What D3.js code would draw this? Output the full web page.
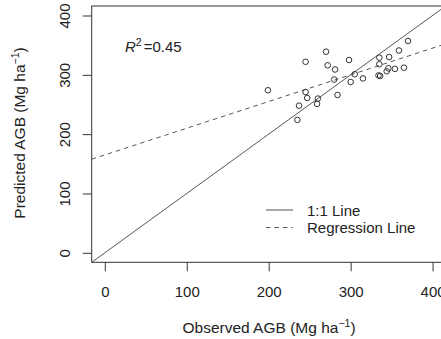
<!DOCTYPE html>
<html>
<head>
<meta charset="utf-8">
<script src="https://d3js.org/d3.v7.min.js"></script>
<style>
  html, body { margin: 0; padding: 0; background: #fff; }
  svg { display: block; font-family: "Liberation Sans", Arial, sans-serif; }
</style>
</head>
<body>
<svg></svg>
<script>
// observed vs predicted AGB (Mg/ha)
let observed  = [199, 245, 270, 272, 281, 298, 280, 305, 300, 315, 284, 245, 247, 260,
                 259, 237, 235, 335, 335, 347, 359, 370, 334, 336, 346, 344, 354, 365],
    predicted = [274, 322, 339, 316, 309, 325, 292, 301, 288, 294, 266, 271, 261, 260,
                 251, 248, 224, 329, 318, 330, 341, 357, 299, 298, 311, 306, 310, 312],
    xTicks    = [0, 100, 200, 300, 400],
    yTicks    = [0, 100, 200, 300, 400],
    fit       = {intercept: 165, slope: 0.45},
    rSquared  = "0.45",
    legendLabels = ["1:1 Line", "Regression Line"];

let width = 441, height = 339,
    boxLeft = 91.7, boxRight = 445.7, boxTop = 6, boxBottom = 262.3,
    ink = "#333", lineInk = "#555", fontSize = 15,
    xScale = d3.scaleLinear().domain([-16, 416]).range([boxLeft, boxRight]),
    yScale = d3.scaleLinear().domain([-16, 416]).range([boxBottom, boxTop]),
    xAxis = d3.axisBottom(xScale).tickValues(xTicks).tickSize(9).tickPadding(15).tickSizeOuter(0),
    yAxis = d3.axisLeft(yScale).tickValues(yTicks).tickSize(9).tickPadding(6).tickSizeOuter(0),

    svg = d3.select("svg")
            .attr("width", width)
            .attr("height", height);

// 1:1 line and regression line, clipped to the plot box
svg.append("clipPath").attr("id", "box")
    .append("rect")
    .attr("x", boxLeft).attr("y", boxTop)
    .attr("width", boxRight - boxLeft).attr("height", boxBottom - boxTop);

let plot = svg.append("g").attr("clip-path", "url(#box)"),
    ends = xScale.domain();

plot.append("line")
    .attr("x1", xScale(ends[0])).attr("y1", yScale(ends[0]))
    .attr("x2", xScale(ends[1])).attr("y2", yScale(ends[1]))
    .attr("stroke", lineInk).attr("stroke-width", 1);

plot.append("line")
    .attr("x1", xScale(ends[0])).attr("y1", yScale(fit.intercept + fit.slope * ends[0]))
    .attr("x2", xScale(ends[1])).attr("y2", yScale(fit.intercept + fit.slope * ends[1]))
    .attr("stroke", lineInk).attr("stroke-width", 1)
    .attr("stroke-dasharray", "4.5,4");

plot.selectAll("circle")
    .data(observed)
    .enter()
    .append("circle")
    .attr("cx", d => xScale(d))
    .attr("cy", (d, i) => yScale(predicted[i]))
    .attr("r", 2.8)
    .attr("fill", "none")
    .attr("stroke", ink)
    .attr("stroke-width", 1);

// frame
svg.append("rect")
    .attr("x", boxLeft).attr("y", boxTop)
    .attr("width", boxRight - boxLeft).attr("height", boxBottom - boxTop)
    .attr("fill", "none").attr("stroke", ink).attr("stroke-width", 1);

let gx = svg.append("g")
    .attr("transform", `translate(0,${boxBottom})`)
    .call(xAxis);

let gy = svg.append("g")
    .attr("transform", `translate(${boxLeft},0)`)
    .call(yAxis);

[gx, gy].forEach(g => {
  g.select(".domain").remove();
  g.selectAll(".tick line").attr("stroke", ink);
  g.selectAll(".tick text")
    .attr("fill", "#222")
    .attr("font-size", fontSize)
    .attr("font-family", "Liberation Sans, Arial, sans-serif");
});

// y tick labels sit rotated, as base R draws them
gy.selectAll(".tick text")
    .attr("x", null).attr("dy", null)
    .attr("text-anchor", "middle")
    .attr("transform", "translate(-27,0) rotate(-90)")
    .attr("y", 5);

// axis titles
let xTitle = svg.append("text")
    .attr("x", 269)
    .attr("y", 333)
    .attr("text-anchor", "middle")
    .attr("font-size", 15.5)
    .attr("fill", "#222")
    .text("Observed AGB (Mg ha");
xTitle.append("tspan").attr("dy", -6).attr("font-size", 10.5).text("\u22121");
xTitle.append("tspan").attr("dy", 6).text(")");

let yTitle = svg.append("text")
    .attr("transform", "translate(25,133) rotate(-90)")
    .attr("text-anchor", "middle")
    .attr("font-size", 15.5)
    .attr("fill", "#222")
    .text("Predicted AGB (Mg ha");
yTitle.append("tspan").attr("dy", -6).attr("font-size", 10.5).text("\u22121");
yTitle.append("tspan").attr("dy", 6).text(")");

// R squared note
let r2 = svg.append("text")
    .attr("x", 125)
    .attr("y", 52)
    .attr("font-size", fontSize)
    .attr("fill", "#222");
r2.append("tspan").attr("font-style", "italic").text("R");
r2.append("tspan").attr("dy", -6).attr("font-size", 10.5).text("2");
r2.append("tspan").attr("dy", 6).attr("dx", 2).text("=" + rSquared);

// legend
let legend = svg.append("g")
    .selectAll("g")
    .data(legendLabels)
    .enter()
    .append("g")
    .attr("transform", (d, i) => `translate(266,${210 + i * 17.5})`);

legend.append("line")
    .attr("x1", 0).attr("x2", 27)
    .attr("stroke", lineInk).attr("stroke-width", 1)
    .attr("stroke-dasharray", (d, i) => i ? "4.5,4" : null);

legend.append("text")
    .attr("x", 41)
    .attr("y", 5.5)
    .attr("font-size", fontSize)
    .attr("fill", "#222")
    .text(d => d);
</script>
</body>
</html>
